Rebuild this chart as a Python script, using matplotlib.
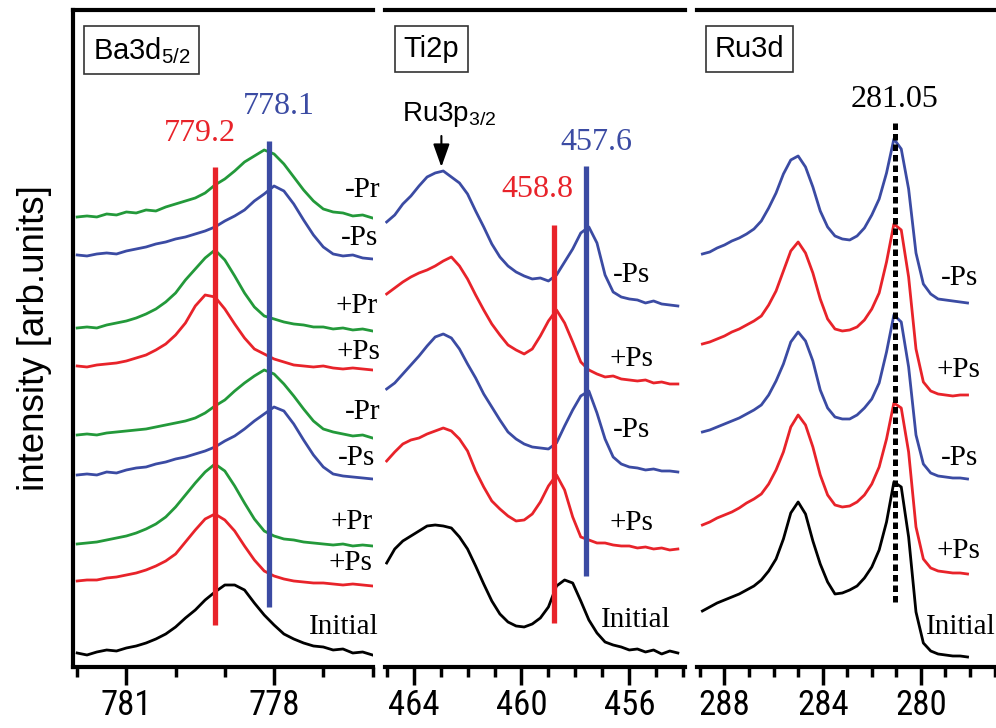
import numpy as np
import matplotlib
matplotlib.use("Agg")
import matplotlib.pyplot as plt
from matplotlib import font_manager as fm
from matplotlib.ticker import FixedLocator, MultipleLocator

plt.rcParams['mathtext.fontset'] = 'custom'
plt.rcParams['mathtext.rm'] = 'Liberation Sans'
plt.rcParams['mathtext.it'] = 'Liberation Sans'
plt.rcParams['font.family'] = ['Liberation Sans', 'DejaVu Sans']

RED = '#E8232A'
BLUE = '#3B4BA3'
GREEN = '#23993A'
BLACK = '#000000'

# ---------------- Panel 1 : Ba3d5/2 ----------------
ba_energy = np.round(np.linspace(782.0, 776.0, 31), 2)
ba_minus_pr_1 = [450, 451, 450, 453, 452, 455, 454, 457, 456, 460, 463, 466, 469, 474, 482, 488,
                 496, 505, 511, 517, 513, 503, 490, 477, 466, 458, 455, 454, 451, 452, 449]
ba_minus_ps_1 = [412, 411, 413, 414, 413, 416, 418, 420, 423, 425, 428, 430, 433, 436, 440, 446,
                 451, 457, 466, 473, 481, 476, 463, 447, 432, 420, 413, 411, 412, 409, 408]
ba_plus_pr_1 = [339, 340, 339, 342, 344, 346, 349, 353, 358, 365, 374, 387, 398, 409, 417, 407,
                391, 374, 360, 351, 348, 345, 343, 342, 340, 340, 338, 339, 337, 338, 336]
ba_plus_ps_1 = [301, 300, 302, 303, 304, 306, 309, 312, 317, 323, 332, 344, 361, 372, 370, 358,
                343, 329, 318, 313, 308, 305, 302, 301, 300, 301, 299, 298, 299, 298, 297]
ba_minus_pr_2 = [232, 233, 232, 234, 235, 236, 237, 238, 240, 242, 244, 246, 249, 254, 261, 267,
                 276, 284, 291, 297, 293, 283, 271, 258, 246, 238, 235, 233, 231, 232, 229]
ba_minus_ps_2 = [192, 193, 192, 195, 194, 197, 199, 200, 203, 205, 208, 210, 213, 216, 220, 226,
                 231, 238, 246, 253, 260, 256, 243, 227, 212, 200, 193, 191, 190, 189, 188]
ba_plus_pr_2 = [123, 124, 125, 127, 129, 131, 134, 138, 143, 150, 160, 172, 184, 195, 203, 196,
                181, 164, 148, 136, 131, 128, 127, 125, 124, 123, 122, 123, 121, 122, 121]
ba_plus_ps_2 = [86, 87, 87, 89, 90, 92, 94, 97, 101, 106, 113, 125, 137, 148, 153, 147,
                136, 121, 107, 96, 91, 88, 86, 85, 84, 84, 83, 82, 83, 82, 81]
ba_initial = [14, 12, 15, 17, 16, 19, 21, 24, 28, 33, 40, 49, 57, 67, 75, 82,
              82, 77, 64, 52, 42, 33, 28, 24, 21, 20, 17, 18, 14, 15, 12]

# ---------------- Panel 2 : Ti2p ----------------
ti_energy = np.round(np.linspace(465.0, 454.2, 37), 2)
ti_minus_ps_1 = [445, 452, 463, 471, 481, 490, 494, 496, 490, 484, 473, 456, 440, 423, 410, 401,
                 395, 391, 388, 389, 386, 392, 405, 418, 434, 440, 424, 392, 375, 370, 368, 367,
                 364, 366, 363, 362, 361]
ti_plus_ps_1 = [373, 379, 385, 390, 394, 397, 401, 406, 410, 401, 388, 372, 357, 343, 332, 322,
                317, 313, 318, 331, 346, 357, 344, 325, 305, 297, 293, 290, 291, 288, 287, 286,
                287, 284, 285, 283, 283]
ti_minus_ps_2 = [278, 284, 293, 302, 311, 321, 330, 333, 329, 318, 303, 289, 273, 260, 247, 235,
                 228, 223, 220, 219, 218, 224, 241, 257, 271, 276, 254, 228, 210, 203, 200, 199,
                 197, 198, 196, 196, 195]
ti_plus_ps_2 = [206, 215, 223, 227, 229, 233, 236, 239, 236, 228, 216, 196, 180, 166, 158, 151,
                146, 147, 153, 165, 181, 192, 177, 150, 130, 127, 124, 124, 122, 121, 121, 119,
                120, 118, 119, 117, 118]
ti_initial = [104, 118, 126, 131, 136, 141, 142, 141, 139, 130, 118, 101, 83, 66, 53, 45,
              41, 40, 43, 49, 60, 81, 87, 84, 66, 47, 34, 25, 22, 20, 17, 18,
              15, 17, 13, 16, 14]

# ---------------- Panel 3 : Ru3d ----------------
ru_energy = np.round(np.linspace(288.9, 278.1, 37), 2)
ru_minus_ps_1 = [413, 415, 419, 422, 426, 429, 433, 438, 446, 459, 474, 493, 507, 511, 500, 480,
                 456, 440, 431, 428, 427, 431, 439, 452, 468, 494, 528, 518, 478, 414, 383, 373,
                 368, 367, 366, 365, 364]
ru_plus_ps_1 = [323, 325, 328, 331, 335, 338, 342, 346, 351, 362, 376, 396, 416, 425, 414, 394,
                368, 348, 338, 336, 337, 340, 347, 358, 374, 405, 443, 437, 390, 318, 285, 276,
                273, 272, 271, 272, 272]
ru_minus_ps_2 = [235, 237, 240, 243, 246, 249, 253, 257, 262, 272, 286, 303, 325, 335, 326, 306,
                 277, 259, 250, 248, 248, 252, 259, 268, 284, 315, 352, 345, 300, 232, 203, 194,
                 191, 190, 189, 189, 188]
ru_plus_ps_2 = [142, 145, 149, 152, 155, 159, 164, 168, 173, 183, 197, 215, 240, 252, 242, 220,
                192, 172, 162, 160, 161, 165, 172, 183, 200, 228, 264, 259, 215, 140, 108, 99,
                96, 95, 94, 94, 93]
ru_initial = [56, 60, 64, 67, 70, 73, 77, 81, 87, 96, 108, 128, 154, 165, 153, 126,
              103, 85, 73, 74, 77, 81, 89, 100, 117, 145, 185, 180, 130, 55, 24, 16,
              13, 12, 11, 11, 10]

ba_series = [(ba_minus_pr_1, GREEN), (ba_minus_ps_1, BLUE), (ba_plus_pr_1, GREEN), (ba_plus_ps_1, RED),
             (ba_minus_pr_2, GREEN), (ba_minus_ps_2, BLUE), (ba_plus_pr_2, GREEN), (ba_plus_ps_2, RED),
             (ba_initial, BLACK)]
ti_series = [(ti_minus_ps_1, BLUE), (ti_plus_ps_1, RED), (ti_minus_ps_2, BLUE), (ti_plus_ps_2, RED),
             (ti_initial, BLACK)]
ru_series = [(ru_minus_ps_1, BLUE), (ru_plus_ps_1, RED), (ru_minus_ps_2, BLUE), (ru_plus_ps_2, RED),
             (ru_initial, BLACK)]

ba_labels = ['-Pr', '-Ps', '+Pr', '+Ps', '-Pr', '-Ps', '+Pr', '+Ps', 'Initial']
ba_label_x = [775.84, 775.88, 775.90, 775.84, 775.84, 775.94, 776.0, 776.0, 775.88]
ba_label_y = [477, 429, 361, 315, 255, 209, 145, 104, 40]
ti_labels = ['-Ps', '+Ps', '-Ps', '+Ps', 'Initial']
ti_label_x = [455.21, 455.10, 455.21, 455.10, 454.47]
ti_label_y = [392, 308, 237, 144, 47]
ru_labels = ['-Ps', '+Ps', '-Ps', '+Ps', 'Initial']
ru_label_x = [277.68, 277.56, 277.68, 277.56, 276.95]
ru_label_y = [389, 297, 209, 116, 40]

# --- font selection (narrow sans for tick labels if available) ---
_names = {f.name for f in fm.fontManager.ttflist}
_narrow = None
_stretch = 'normal'
for cand in ['Liberation Sans Narrow', 'Arial Narrow', 'Roboto Condensed', 'Open Sans Condensed',
             'Nimbus Sans Narrow']:
    if cand in _names:
        _narrow = cand
        break
if _narrow is None:
    for f in fm.fontManager.ttflist:
        if f.name == 'DejaVu Sans' and str(f.stretch) in ('condensed', 'semi-condensed'):
            _narrow = 'DejaVu Sans'
            _stretch = 'condensed'
            break
if _narrow is None:
    _narrow = 'Liberation Sans'
narrow = [_narrow, 'Liberation Sans']
serif = ['Liberation Serif', 'DejaVu Serif']

fig = plt.figure(figsize=(9.96, 7.28), dpi=100)
bottom = 0.0838
height = 0.9025
axes = [fig.add_axes([0.0730, bottom, 0.3015, height]),
        fig.add_axes([0.3865, bottom, 0.3012, height]),
        fig.add_axes([0.6998, bottom, 0.3012, height])]

xlims = [(782.09, 775.99), (465.063, 453.937), (289.12, 276.9)]
majors = [[781, 778], [464, 460, 456], [288, 284, 280]]
energies = [ba_energy, ti_energy, ru_energy]
series = [ba_series, ti_series, ru_series]
labels = [(ba_labels, ba_label_x, ba_label_y), (ti_labels, ti_label_x, ti_label_y),
          (ru_labels, ru_label_x, ru_label_y)]
titles = [r'Ba3d$_{5/2}$', 'Ti2p', 'Ru3d']
title_x = [0.066, 0.062, 0.058]

for i, ax in enumerate(axes):
    for vals, col in series[i]:
        ax.plot(energies[i], vals, color=col, lw=2.0, solid_joinstyle='round', zorder=2)
    ax.set_xlim(*xlims[i])
    ax.set_ylim(0, 657)
    ax.set_yticks([])
    ax.xaxis.set_major_locator(FixedLocator(majors[i]))
    ax.xaxis.set_minor_locator(MultipleLocator(1))
    ax.tick_params(axis='x', which='major', direction='out', length=13, width=2.5, pad=3,
                   labelsize=25, top=False)
    ax.tick_params(axis='x', which='minor', direction='out', length=7, width=2.5, top=False)
    for lab in ax.get_xticklabels():
        lab.set_fontfamily(narrow)
        lab.set_fontstretch(_stretch)
    for s in ['top', 'bottom', 'left']:
        ax.spines[s].set_linewidth(3.0)
    ax.spines['right'].set_visible(False)
    if i > 0:
        ax.spines['left'].set_visible(False)
    ax.patch.set_alpha(0)
    txts, lx, ly = labels[i]
    for t, x, y in zip(txts, lx, ly):
        ax.text(x, y, t, ha='right', va='center', fontsize=21, family=serif, clip_on=False)
    ax.text(title_x[i], 0.962, titles[i], transform=ax.transAxes, ha='left', va='top', fontsize=21,
            bbox=dict(boxstyle='square,pad=0.3', fc='white', ec='#333333', lw=1.2))

ax1, ax2, ax3 = axes
ax1.plot([779.2, 779.2], [42, 500], color=RED, lw=3.8, solid_capstyle='butt', zorder=3)
ax1.plot([778.1, 778.1], [60, 526], color=BLUE, lw=3.8, solid_capstyle='butt', zorder=3)
ax1.text(779.51, 533, '779.2', color=RED, fontsize=23, family=serif, ha='center', va='center')
ax1.text(777.90, 560, '778.1', color=BLUE, fontsize=23, family=serif, ha='center', va='center')

ax2.plot([458.8, 458.8], [44, 442], color=RED, lw=3.8, solid_capstyle='butt', zorder=3)
ax2.plot([457.6, 457.6], [91, 501], color=BLUE, lw=3.8, solid_capstyle='butt', zorder=3)
ax2.text(459.41, 477, '458.8', color=RED, fontsize=23, family=serif, ha='center', va='center')
ax2.text(457.22, 524, '457.6', color=BLUE, fontsize=23, family=serif, ha='center', va='center')
ax2.text(462.67, 552, r'Ru3p$_{3/2}$', color='black', fontsize=20, ha='center', va='center')
ax2.annotate('', xy=(462.97, 500), xytext=(462.97, 531),
             arrowprops=dict(arrowstyle='-|>,head_length=0.7,head_width=0.25', lw=1.5, color='black',
                             shrinkA=0, shrinkB=0, mutation_scale=20))

ax3.plot([281.05, 281.05], [65, 545], color='black', lw=3.6, dashes=(1.3, 0.8), dash_capstyle='butt',
         zorder=3)
ax3.text(281.06, 567, '281.05', color='black', fontsize=23, family=serif, ha='center', va='center')

ylab = fig.text(0.035, 1 - 338 / 728, 'intensity [arb.units]', rotation=90, ha='center', va='center',
                fontsize=25)
fig.canvas.draw()
ext = ylab.get_window_extent()
ylab.set_fontsize(25 * 306.0 / ext.height)

fig.savefig('out.png', dpi=100)
